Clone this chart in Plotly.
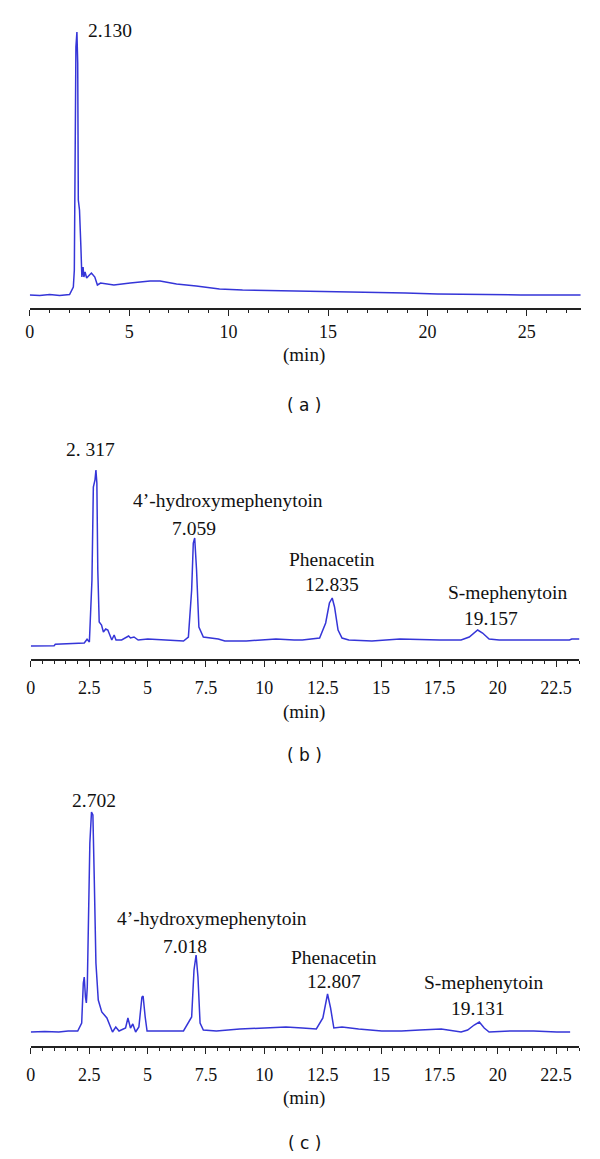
import plotly.graph_objects as go

# ---------------- data (retention time in min, detector response in arbitrary units) -------------
time_a = [0, 0.5, 1.0, 1.5, 2.0, 2.07, 2.19, 2.24, 2.26, 2.29, 2.32, 2.37, 2.41, 2.44, 2.5, 2.57,
          2.62, 2.68, 2.72, 2.78, 2.86, 3.0, 3.1, 3.27, 3.4, 3.56, 4.23, 5.05, 6.05, 6.55, 7.38,
          8.37, 9.54, 10.7, 13.7, 17.8, 18.9, 20.5, 23.7, 24.7, 27.7]
resp_a = [0, -0.5, 0.5, -0.5, 0.5, 3, 8, 25, 82, 85, 248, 263, 232, 95, 85, 48,
          18, 28, 18, 23, 17, 20, 22, 18, 10, 12, 10, 12, 14, 14, 11,
          9, 6, 5, 4, 3, 2, 1, 0, 0, 0]

time_b = [0, 1.0, 1.05, 2.29, 2.41, 2.51, 2.62, 2.68, 2.75, 2.79, 2.83, 2.87, 2.93, 3.03, 3.11,
          3.21, 3.30, 3.38, 3.47, 3.57, 3.65, 3.89, 4.19, 4.27, 4.42, 4.6, 5.01, 6.54, 6.75, 6.89,
          6.96, 7.02, 7.10, 7.2, 7.39, 8.03, 8.31, 9.23, 10.5, 11.28, 11.63, 12.37, 12.63, 12.79,
          12.91, 13.01, 13.16, 13.33, 13.62, 14.61, 15.81, 17.51, 18.43, 18.78, 19.14, 19.35,
          19.63, 20.06, 23.07, 23.17, 23.5]
resp_b = [0, 0.3, 1.7, 3, 6.7, 4, 66, 159, 166, 176, 163, 76, 24, 21, 14,
          17, 16, 11, 6, 11, 6, 6, 10, 8, 9, 6, 7, 5, 9, 56,
          103, 108, 76, 19, 9, 7, 5, 5, 7, 6, 6, 8, 23, 43,
          48, 39, 16, 8, 6, 5, 7, 6, 6, 9, 16, 13,
          7, 6, 6, 7, 7]

time_c = [0, 0.6, 1.2, 1.6, 2.01, 2.18, 2.25, 2.29, 2.34, 2.38, 2.42, 2.46, 2.53, 2.60, 2.66,
          2.72, 2.79, 2.89, 3.04, 3.26, 3.40, 3.5, 3.64, 3.78, 4.06, 4.16, 4.27, 4.37, 4.49, 4.63,
          4.76, 4.81, 4.9, 4.98, 6.54, 6.89, 6.99, 7.08, 7.16, 7.25, 7.39, 7.95, 8.95, 9.94,
          10.93, 11.63, 12.23, 12.51, 12.65, 12.71, 12.84, 12.98, 13.33, 14.04, 15.03, 15.88,
          16.66, 17.58, 18.43, 18.71, 18.99, 19.21, 19.42, 19.63, 20.55, 21.54, 22.53, 23.1]
resp_c = [0, 0.5, 0, 1, 1, 9, 49, 55, 35, 29, 45, 105, 189, 220, 217,
          152, 69, 32, 20, 14, 5, 0, 5, 1, 4, 14, 4, 8, 0, 5,
          35, 36, 15, 1, 1, 15, 62, 77, 55, 9, 2, 1, 3, 4,
          5, 4, 3, 14, 32, 38, 24, 4, 5, 3, 1, 1,
          2, 3, 0, 2, 7, 10, 4, 0, 1, 1, 0, 0]

# peak labels: (text, x in min, y in response units)
labels_a = [("2.130", 4.04, 264)]
labels_b = [("2. 317", 2.55, 197), ("4’-hydroxymephenytoin", 8.45, 146), ("7.059", 7.0, 118),
            ("Phenacetin", 12.9, 87), ("12.835", 12.9, 62),
            ("S-mephenytoin", 20.4, 54), ("19.157", 19.7, 28)]
labels_c = [("2.702", 2.72, 232), ("4’-hydroxymephenytoin", 7.77, 114), ("7.018", 6.62, 86),
            ("Phenacetin", 13.0, 75), ("12.807", 13.0, 51),
            ("S-mephenytoin", 19.4, 50), ("19.131", 19.15, 24)]

panel_names = ["( a )", "( b )", "( c )"]
axis_title = "(min)"

# ---------------- layout helpers -------------
W, H = 600, 1159
LINE = "#3535d8"
SERIF = "Liberation Serif"


def py(p):
    return 1 - p / H


fig = go.Figure()
for i, (t, r) in enumerate([(time_a, resp_a), (time_b, resp_b), (time_c, resp_c)]):
    sfx = "" if i == 0 else str(i + 1)
    fig.add_trace(go.Scatter(x=t, y=r, mode="lines", line=dict(color=LINE, width=1.5),
                             xaxis="x" + sfx, yaxis="y" + sfx, showlegend=False,
                             hoverinfo="skip"))

panels = [
    dict(xd=(25, 581), yd=(308, 5), xr=[0, 27.73], yr=[-13, 290], dt=5, mdt=1, so=1),
    dict(xd=(26, 579.3), yd=(659, 440), xr=[0, 23.5], yr=[-13, 206], dt=2.5, mdt=0.5, so=6),
    dict(xd=(26, 579.3), yd=(1046, 780), xr=[0, 23.5], yr=[-14, 252], dt=2.5, mdt=0.5, so=6),
]

layout = dict(width=W, height=H, margin=dict(l=0, r=0, t=0, b=0, pad=0),
              paper_bgcolor="white", plot_bgcolor="white", showlegend=False)
for i, p in enumerate(panels):
    sfx = "" if i == 0 else str(i + 1)
    layout["xaxis" + sfx] = dict(
        domain=[p["xd"][0] / W, p["xd"][1] / W], range=p["xr"], anchor="y" + sfx,
        showgrid=False, zeroline=False, showline=True, linecolor="#222", linewidth=1.5,
        ticks="outside", ticklen=6, tickwidth=1.2, tickcolor="#222",
        tick0=0, dtick=p["dt"], ticklabelstandoff=p["so"],
        tickfont=dict(family=SERIF, size=18, color="#111"),
        minor=dict(ticks="outside", ticklen=3, tickwidth=1.2, tickcolor="#222",
                   dtick=p["mdt"], tick0=0, showgrid=False),
        fixedrange=True)
    layout["yaxis" + sfx] = dict(
        domain=[py(p["yd"][0]), py(p["yd"][1])], range=p["yr"], anchor="x" + sfx,
        visible=False, showgrid=False, zeroline=False, fixedrange=True)
fig.update_layout(**layout)

annotations = []
for i, labs in enumerate([labels_a, labels_b, labels_c]):
    sfx = "" if i == 0 else str(i + 1)
    for txt, x, y in labs:
        annotations.append(dict(text=txt, x=x, y=y, xref="x" + sfx, yref="y" + sfx,
                                showarrow=False, xanchor="center", yanchor="middle",
                                font=dict(family=SERIF, size=19.5, color="#111")))

min_y = [355, 712, 1098]
panel_y = [405, 755, 1143]
for i in range(3):
    annotations.append(dict(text=axis_title, x=302 / W, y=py(min_y[i]), xref="paper", yref="paper",
                            showarrow=False, xanchor="center", yanchor="middle",
                            font=dict(family=SERIF, size=19, color="#111")))
    annotations.append(dict(text=panel_names[i], x=302 / W, y=py(panel_y[i]), xref="paper",
                            yref="paper", showarrow=False, xanchor="center", yanchor="middle",
                            font=dict(family="DejaVu Sans", size=17, color="#111")))
fig.update_layout(annotations=annotations)

fig.write_html("out.html", config={"displayModeBar": False},
               post_script="document.body.style.margin='0';document.body.style.padding='0';")
